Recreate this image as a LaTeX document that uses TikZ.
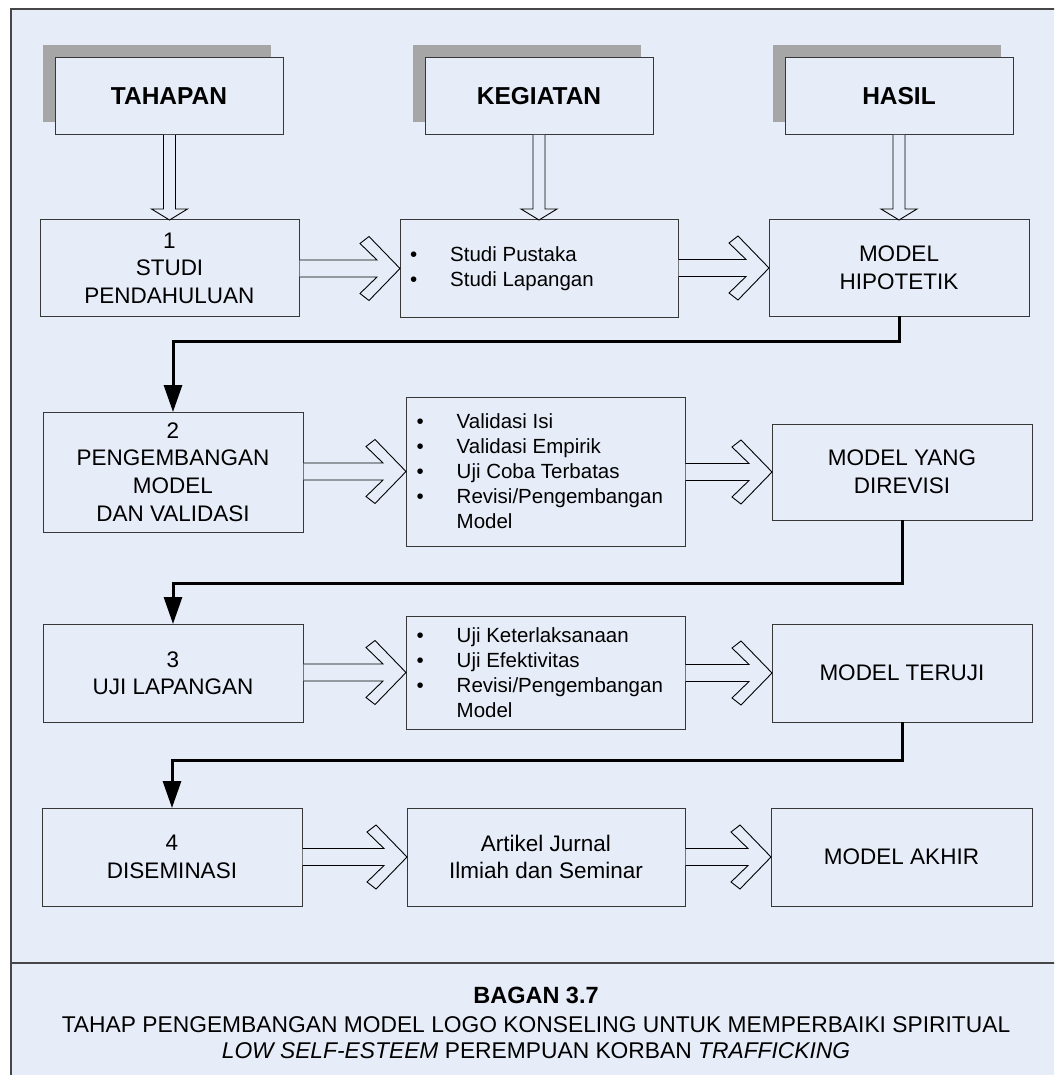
\documentclass[tikz,border=0pt]{standalone}
\usepackage{fontspec}
\setmainfont{Liberation Sans}
\usetikzlibrary{calc,shadows,arrows.meta}
\definecolor{bgblue}{RGB}{231,237,248}
\definecolor{shadowgray}{RGB}{166,166,166}
\definecolor{framegray}{RGB}{70,70,70}
\definecolor{boxline}{RGB}{55,55,55}
\tikzset{
 stagebox/.style={draw=boxline, line width=1pt, fill=bgblue, anchor=north west,
   inner sep=0pt, outer sep=0pt, align=center, font=\fontsize{22.5}{27.5}\selectfont},
 headbox/.style={stagebox, font=\bfseries\fontsize{24.5}{29}\selectfont,
   general shadow={shadow xshift=-12.5pt, shadow yshift=13pt, fill=shadowgray}},
 listtext/.style={anchor=west, inner sep=0pt, align=left, font=\fontsize{20.5}{25}\selectfont},
 hollow/.style={draw=black, line width=0.9pt, fill=bgblue, line join=miter},
 elbow/.style={draw=black, line width=3pt, -{Triangle[length=27pt,width=18pt]}},
 captext/.style={anchor=base, inner sep=0pt, font=\fontsize{22.8}{27}\selectfont},
}
\newcommand{\hollowdown}[2]{%
 \path[hollow] let \p1=(#1.south), \p2=(#2.north) in
 (\x2-6pt,\y1) -- (\x2-6pt,\y2+11pt) -- (\x2-18pt,\y2+11pt) -- (\x2,\y2)
 -- (\x2+18pt,\y2+11pt) -- (\x2+6pt,\y2+11pt) -- (\x2+6pt,\y1);}
\newcommand{\hollowright}[2]{%
 \path[hollow] let \p1=(#1.east), \p2=(#2.west) in
 (\x1+0.5pt,\y2+8.5pt) -- (\x2-23pt,\y2+8.5pt) -- (\x2-40pt,\y2+25pt) -- (\x2-31pt,\y2+32pt)
 -- (\x2,\y2) -- (\x2-31pt,\y2-32pt) -- (\x2-40pt,\y2-25pt) -- (\x2-23pt,\y2-8.5pt)
 -- (\x1+0.5pt,\y2-8.5pt);}
\newcommand{\bul}{\makebox[40pt][l]{\textbullet}}
\newcommand{\nobul}{\hspace*{40pt}}
\begin{document}
\begin{tikzpicture}[x=1pt,y=-1pt]
\useasboundingbox (0,0) rectangle (1054,1075);
\clip (0,0) rectangle (1054,1075);
\fill[white] (0,0) rectangle (1054,1075);
\draw[draw=framegray, line width=1.3pt, fill=bgblue] (11,9) rectangle (1070,1090);
\draw[framegray, line width=1.3pt] (11,963) -- (1070,963);

% header boxes
\node[headbox, minimum width=228pt, minimum height=77pt] (th) at (55,58) {TAHAPAN};
\node[headbox, minimum width=228pt, minimum height=77pt] (kg) at (425,58) {KEGIATAN};
\node[headbox, minimum width=228pt, minimum height=77pt] (hs) at (785,58) {HASIL};

% row 1
\node[stagebox, minimum width=259pt, minimum height=96pt] (b1) at (40,220) {1\\STUDI\\PENDAHULUAN};
\node[stagebox, minimum width=278pt, minimum height=97pt] (k1) at (400,220) {};
\node[stagebox, minimum width=260pt, minimum height=96pt] (h1) at (769,220) {MODEL\\HIPOTETIK};
\node[listtext] (k1t) at ([xshift=10pt]k1.west) {\bul Studi Pustaka\\ \bul Studi Lapangan};

% row 2
\node[stagebox, minimum width=260pt, minimum height=120pt] (b2) at (43,412) {2\\PENGEMBANGAN\\MODEL\\DAN VALIDASI};
\node[stagebox, minimum width=279pt, minimum height=149pt] (k2) at (406,397) {};
\node[stagebox, minimum width=260pt, minimum height=96pt] (h2) at (772,424) {MODEL YANG\\DIREVISI};
\node[listtext] (k2t) at ([xshift=10.5pt]k2.west) {\bul Validasi Isi\\ \bul Validasi Empirik\\ \bul Uji Coba Terbatas\\ \bul Revisi/Pengembangan\\ \nobul Model};

% row 3
\node[stagebox, minimum width=260pt, minimum height=98pt] (b3) at (43,624) {3\\UJI LAPANGAN};
\node[stagebox, minimum width=279pt, minimum height=113pt] (k3) at (406,616) {};
\node[stagebox, minimum width=260pt, minimum height=98pt] (h3) at (772,624) {MODEL TERUJI};
\node[listtext] (k3t) at ([xshift=10.5pt]k3.west) {\bul Uji Keterlaksanaan\\ \bul Uji Efektivitas\\ \bul Revisi/Pengembangan\\ \nobul Model};

% row 4
\node[stagebox, minimum width=260pt, minimum height=98pt] (b4) at (42,808) {4\\DISEMINASI};
\node[stagebox, minimum width=278pt, minimum height=98pt] (k4) at (407,808) {Artikel Jurnal\\Ilmiah dan Seminar};
\node[stagebox, minimum width=261pt, minimum height=98pt] (h4) at (771,808) {MODEL AKHIR};

% hollow down arrows
\hollowdown{th}{b1}
\hollowdown{kg}{k1}
\hollowdown{hs}{h1}

% hollow right arrows
\hollowright{b1}{k1}
\hollowright{k1}{h1}
\hollowright{b2}{k2}
\hollowright{k2}{h2}
\hollowright{b3}{k3}
\hollowright{k3}{h3}
\hollowright{b4}{k4}
\hollowright{k4}{h4}

% elbow connectors
\draw[elbow] (h1.south) -- ++(0,25) -| (b2.north);
\draw[elbow] (h2.south) -- ++(0,63) -| (b3.north);
\draw[elbow] (h3.south) -- ++(0,38) -| (b4.north);

% caption
\node[captext, font=\bfseries\fontsize{23.5}{27}\selectfont] (cap1) at (536,1003) {BAGAN 3.7};
\node[captext] (cap2) at (536,1032) {TAHAP PENGEMBANGAN MODEL LOGO KONSELING UNTUK MEMPERBAIKI SPIRITUAL};
\node[captext] (cap3) at (536,1058) {\textit{LOW SELF-ESTEEM} PEREMPUAN KORBAN \textit{TRAFFICKING}};
\end{tikzpicture}
\end{document}
